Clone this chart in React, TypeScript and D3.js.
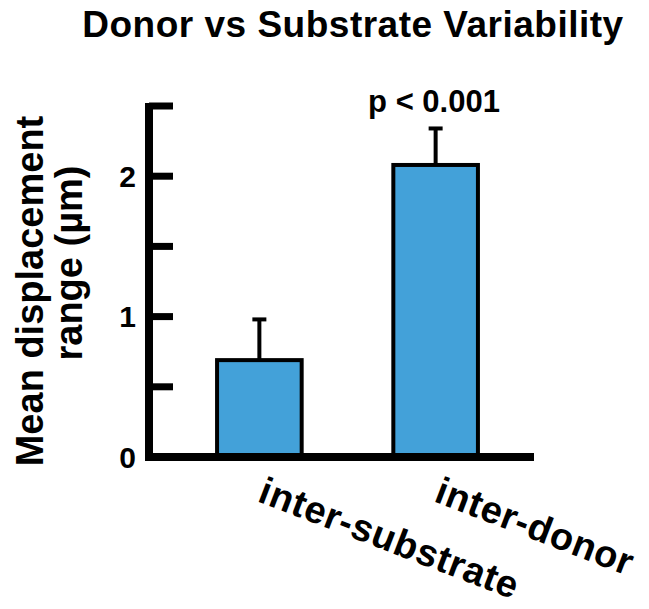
import React from "react";
import * as d3 from "d3";

const categories = ["inter-substrate", "inter-donor"];
const means = [0.69, 2.08];
const errors = [0.29, 0.26];
const yTicks = [0, 0.5, 1, 1.5, 2, 2.5];
const yTickLabels = ["0", "", "1", "", "2", ""];
const title = "Donor vs Substrate Variability";
const yLabelLines = ["Mean displacement", "range (µm)"];
const pLabel = "p < 0.001";

const W = 649;
const H = 609;
const FONT = "'Liberation Sans', Arial, Helvetica, sans-serif";

export default function App() {
  const axisX = 149;
  const y = d3.scaleLinear().domain([0, 2.5]).range([457, 106]);
  const x = d3.scaleBand<string>().domain(categories).range([173, 522]).paddingInner(0.52).paddingOuter(0.25);
  const bw = x.bandwidth();
  const fill = "#43a1d9";

  return (
    <svg width={W} height={H} style={{ position: "absolute", left: 0, top: 0, background: "#fff" }} fontFamily={FONT}>
      <text x={353} y={37} textAnchor="middle" fontSize={37} letterSpacing={0.5} fontWeight="bold" fill="#000">{title}</text>

      {/* y label */}
      <text transform={`translate(43, 291) rotate(-90)`} textAnchor="middle" fontSize={38} fontWeight="bold">{yLabelLines[0]}</text>
      <text transform={`translate(82, 263) rotate(-90)`} textAnchor="middle" fontSize={38} fontWeight="bold">{yLabelLines[1]}</text>

      {/* bars */}
      {categories.map((c, i) => {
        const x0 = x(c) as number;
        const cx = x0 + bw / 2;
        const top = y(means[i]);
        const et = y(means[i] + errors[i]);
        return (
          <g key={c}>
            <line x1={cx} x2={cx} y1={top} y2={et} stroke="#000" strokeWidth={4} />
            <line x1={cx - 7} x2={cx + 7} y1={et} y2={et} stroke="#000" strokeWidth={4} />
            <rect x={x0} y={top} width={bw} height={y(0) - top} fill={fill} stroke="#000" strokeWidth={4} />
          </g>
        );
      })}

      {/* y axis */}
      <line x1={axisX} x2={axisX} y1={103} y2={461} stroke="#000" strokeWidth={8} />
      {yTicks.map((t, i) => (
        <g key={t}>
          <line x1={axisX} x2={173} y1={y(t)} y2={y(t)} stroke="#000" strokeWidth={7} />
          {yTickLabels[i] && (
            <text x={136} y={y(t)} dy="0.36em" textAnchor="end" fontSize={30} fontWeight="bold">{yTickLabels[i]}</text>
          )}
        </g>
      ))}
      {/* x axis */}
      <line x1={145} x2={534} y1={y(0)} y2={y(0)} stroke="#000" strokeWidth={8} />

      {/* x labels */}
      {categories.map((c) => {
        const cx = (x(c) as number) + bw / 2;
        return (
          <text key={c} transform={`translate(${cx - 3}, 501) rotate(21)`} textAnchor="start" fontSize={38} letterSpacing={0.6} fontWeight="bold">{c}</text>
        );
      })}

      <text x={434} y={112} textAnchor="middle" fontSize={31} fontWeight="bold">{pLabel}</text>
    </svg>
  );
}
